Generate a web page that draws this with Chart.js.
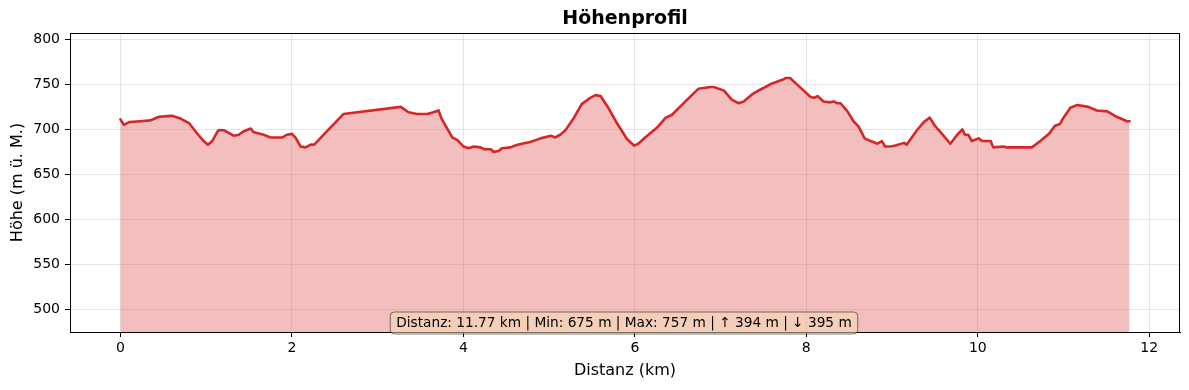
<!DOCTYPE html>
<html>
<head>
<meta charset="utf-8">
<script src="https://cdn.jsdelivr.net/npm/chart.js@4"></script>
<style>
  body { margin: 0; background: #fff; }
  canvas { display: block; }
</style>
</head>
<body>
<canvas id="profile" width="1189" height="390"></canvas>
<script>
// distance along the route (km) and elevation (m)
const distKm = [
  0.00, 0.04, 0.10, 0.23, 0.35, 0.45, 0.60, 0.70, 0.80, 0.89,
  0.97, 1.02, 1.07, 1.14, 1.21, 1.32, 1.38, 1.44, 1.52, 1.55,
  1.67, 1.75, 1.83, 1.89, 1.94, 2.00, 2.04, 2.10, 2.16, 2.22,
  2.26, 2.41, 2.60, 3.27, 3.36, 3.46, 3.58, 3.65, 3.71, 3.75,
  3.87, 3.93, 4.00, 4.06, 4.12, 4.20, 4.24, 4.32, 4.35, 4.41,
  4.45, 4.55, 4.63, 4.78, 4.90, 5.02, 5.07, 5.13, 5.19, 5.29,
  5.38, 5.48, 5.54, 5.60, 5.69, 5.79, 5.91, 5.99, 6.04, 6.12,
  6.26, 6.36, 6.43, 6.59, 6.74, 6.88, 6.92, 7.04, 7.13, 7.21,
  7.27, 7.37, 7.46, 7.58, 7.72, 7.76, 7.81, 7.89, 8.05, 8.09,
  8.13, 8.20, 8.28, 8.32, 8.36, 8.40, 8.48, 8.55, 8.61, 8.68,
  8.75, 8.83, 8.88, 8.92, 8.98, 9.04, 9.14, 9.17, 9.29, 9.37,
  9.44, 9.50, 9.60, 9.68, 9.76, 9.82, 9.85, 9.89, 9.93, 10.01,
  10.05, 10.15, 10.18, 10.30, 10.34, 10.63, 10.73, 10.83, 10.90, 10.96,
  11.00, 11.08, 11.16, 11.29, 11.39, 11.51, 11.62, 11.74, 11.77
];
const elevM = [
  711, 705, 708, 709, 710, 714, 715, 712, 707, 696,
  687, 683, 687, 699, 699, 693, 694, 698, 701, 697,
  694, 691, 691, 691, 694, 695, 691, 681, 680, 683,
  683, 698, 717, 725, 719, 717, 717, 719, 721, 711,
  691, 688, 681, 679, 681, 680, 678, 678, 675, 676,
  679, 680, 683, 686, 690, 693, 691, 694, 699, 713,
  728, 735, 738, 737, 724, 707, 689, 682, 684, 691,
  702, 713, 716, 731, 745, 747, 747, 743, 733, 729,
  731, 739, 744, 750, 755, 757, 757, 750, 736, 735,
  737, 731, 730, 731, 729, 729, 720, 709, 703, 690,
  687, 684, 687, 681, 681, 682, 685, 683, 699, 708,
  713, 704, 693, 684, 694, 700, 694, 694, 687, 690,
  687, 687, 680, 681, 680, 680, 687, 695, 704, 706,
  713, 724, 727, 725, 721, 720, 714, 709, 709
];
const xTicks = [0, 2, 4, 6, 8, 10, 12];
const yTicks = [500, 550, 600, 650, 700, 750, 800];

const titleText = "Höhenprofil";
const xLabel = "Distanz (km)";
const yLabel = "Höhe (m ü. M.)";
const statsText = "Distanz: 11.77 km | Min: 675 m | Max: 757 m | ↑ 394 m | ↓ 395 m";

const points = distKm.map((d, i) => ({ x: d, y: elevM[i] }));
const FONT = "'DejaVu Sans', sans-serif";

const decorations = {
  id: "decorations",
  afterDraw(chart) {
    const { ctx, chartArea: a } = chart;
    ctx.save();
    // frame on all four sides
    ctx.strokeStyle = "#000";
    ctx.lineWidth = 1;
    ctx.strokeRect(Math.round(a.left) + 0.5, Math.round(a.top) + 0.5,
      Math.round(a.right - a.left) - 1, Math.round(a.bottom - a.top));

    // title
    ctx.fillStyle = "#000";
    ctx.font = "bold 19px " + FONT;
    ctx.textAlign = "center";
    ctx.textBaseline = "middle";
    ctx.fillText(titleText, (a.left + a.right) / 2, 19);

    // stats box
    ctx.font = "13.7px " + FONT;
    const w = ctx.measureText(statsText).width + 12;
    const h = 22;
    const cx = (a.left + a.right) / 2 - 1;
    const bx = cx - w / 2, by = a.bottom - 20;
    ctx.beginPath();
    ctx.roundRect(bx, by, w, h, 4);
    ctx.fillStyle = "rgba(245,222,179,0.5)";
    ctx.fill();
    ctx.strokeStyle = "rgba(0,0,0,0.5)";
    ctx.lineWidth = 1;
    ctx.stroke();
    ctx.fillStyle = "#000";
    ctx.fillText(statsText, cx, by + h / 2 + 0.5);
    ctx.restore();
  }
};

new Chart(document.getElementById("profile"), {
  type: "line",
  data: {
    datasets: [{
      data: points,
      borderColor: "#d62728",
      backgroundColor: "rgba(214,39,40,0.3)",
      borderWidth: 2.6,
      borderJoinStyle: "round",
      borderCapStyle: "round",
      pointRadius: 0,
      tension: 0,
      fill: "start"
    }]
  },
  options: {
    responsive: false,
    animation: false,
    devicePixelRatio: 1,
    layout: { padding: { top: 33, right: 9, left: 0, bottom: 0 } },
    plugins: {
      legend: { display: false },
      tooltip: { enabled: false },
      title: { display: false }
    },
    scales: {
      x: {
        type: "linear",
        min: -0.5885,
        max: 12.3585,
        afterBuildTicks: (s) => { s.ticks = xTicks.map(v => ({ value: v })); },
        afterFit: (s) => { s.height = 58; },
        grid: { color: "rgba(176,176,176,0.3)", tickColor: "#000", tickLength: 5 },
        border: { color: "#000" },
        ticks: { color: "#000", font: { family: FONT, size: 14 }, padding: 3, maxRotation: 0 },
        title: { display: true, text: xLabel, color: "#000", font: { family: FONT, size: 16 }, padding: { top: 0, bottom: 10 } }
      },
      y: {
        min: 475,
        max: 807,
        afterBuildTicks: (s) => { s.ticks = yTicks.map(v => ({ value: v })); },
        afterFit: (s) => { s.width = 70; },
        grid: { color: "rgba(176,176,176,0.3)", tickColor: "#000", tickLength: 5 },
        border: { color: "#000" },
        ticks: { color: "#000", font: { family: FONT, size: 14 }, padding: 5 },
        title: { display: true, text: yLabel, color: "#000", font: { family: FONT, size: 16 }, padding: { top: 8, bottom: 0 } }
      }
    }
  },
  plugins: [decorations]
});
</script>
</body>
</html>
